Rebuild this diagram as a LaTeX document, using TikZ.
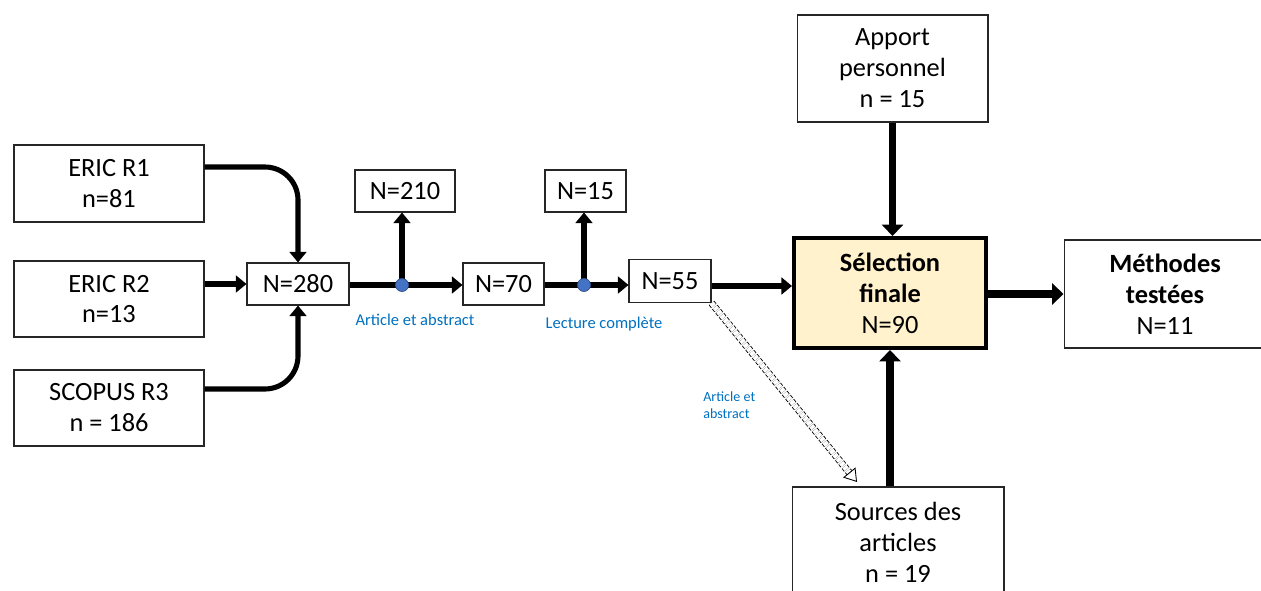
\documentclass[tikz,border=0pt]{standalone}
\usepackage{fontspec}
\setmainfont{Carlito}
\usetikzlibrary{arrows.meta}
\definecolor{selfill}{RGB}{255,242,204}
\definecolor{lblblue}{RGB}{0,112,192}
\definecolor{dotblue}{RGB}{68,114,196}

\begin{document}
\begin{tikzpicture}[x=0.02cm, y=-0.02cm,
        box/.style={rectangle, draw=black!85, line width=0.6pt, fill=white, align=center, inner sep=0pt, font=\fontsize{15}{17.6}\selectfont},
        flow/.style={line width=2.9pt, -{Triangle[length=6pt, width=9.5pt]}},
        bigflow/.style={line width=4.4pt, -{Triangle[length=6.5pt, width=12pt]}},
        splitdot/.style={circle, fill=dotblue, draw=dotblue!70!black, line width=0.4pt, inner sep=0pt, minimum size=0.26cm},
        note/.style={text=lblblue, inner sep=0pt, font=\fontsize{9.4}{11}\selectfont}]
        \useasboundingbox (0,0) rectangle (1261,591);

        % sources
        \node (eric1) [box, minimum width=3.8cm, minimum height=1.54cm] at (109,183.5) {ERIC R1\\n=81};
        \node (eric2) [box, minimum width=3.8cm, minimum height=1.52cm] at (109,299) {ERIC R2\\n=13};
        \node (scopus) [box, minimum width=3.8cm, minimum height=1.52cm] at (109,408) {SCOPUS R3\\n = 186};

        % tri
        \node (n280) [box, minimum width=2.04cm, minimum height=0.84cm] at (298,284) {N=280};
        \node (n210) [box, minimum width=2cm, minimum height=0.84cm] at (405,191) {N=210};
        \node (n70) [box, minimum width=1.62cm, minimum height=0.84cm] at (503.5,284) {N=70};
        \node (n15) [box, minimum width=1.62cm, minimum height=0.84cm] at (585.5,191) {N=15};
        \node (n55) [box, minimum width=1.64cm, minimum height=0.86cm] at (670,281) {N=55};

        % selection
        \node (sel) [box, draw=black, line width=2.3pt, fill=selfill, minimum width=3.84cm, minimum height=2.2cm] at (890,293) {\textbf{Sélection}\\\textbf{finale}\\N=90};
        \node (apport) [box, minimum width=3.82cm, minimum height=2.14cm] at (892.5,68.5) {Apport\\personnel\\n = 15};
        \node (meth) [box, minimum width=4.04cm, minimum height=2.16cm] at (1165,294) {\textbf{Méthodes}\\\textbf{testées}\\N=11};
        \node (src) [box, minimum width=4.24cm, minimum height=2.2cm] at (898,542) {Sources des\\articles\\n = 19};

        \coordinate (split1) at (402,285);
        \coordinate (split2) at (584,285);
        \coordinate (dashend) at (857,482);

        \draw[flow, rounded corners=0.66cm] ([yshift=0.33cm]eric1.east) -| (n280.north);
        \draw[flow] (eric2.east |- n280.west) -- (n280.west);
        \draw[flow, rounded corners=0.66cm] ([yshift=0.38cm]scopus.east) -| (n280.south);

        \draw[flow] (n280.east |- split1) -- (n70.west |- split1);
        \draw[flow] (split1) -- (split1 |- n210.south);
        \draw[flow] (n70.east |- split2) -- (n55.west |- split2);
        \draw[flow] (split2) -- (split2 |- n15.south);
        \draw[flow] ([yshift=-0.1cm]n55.east) -- ([yshift=-0.1cm]n55.east -| sel.west);

        \draw[bigflow] (apport.south) -- (apport.south |- sel.north);
        \draw[bigflow] (sel.south |- src.north) -- (sel.south);
        \draw[bigflow] (sel.east |- meth.west) -- (meth.west);

        \draw[double=white, double distance=3pt, line width=0.5pt, dash pattern=on 2pt off 1pt, -{Triangle[open, length=7pt, width=9pt]}] (n55.south east) -- (dashend);

        \node (dot1) [splitdot] at (split1) {};
        \node (dot2) [splitdot] at (split2) {};

        \node (lbl1) [note] at (415,320) {Article et abstract};
        \node (lbl2) [note] at (604,324) {Lecture complète};
        \node (lbl3) [note, align=left, anchor=west, font=\fontsize{8}{9.6}\selectfont] at (703,405) {Article et\\abstract};
\end{tikzpicture}
\end{document}
